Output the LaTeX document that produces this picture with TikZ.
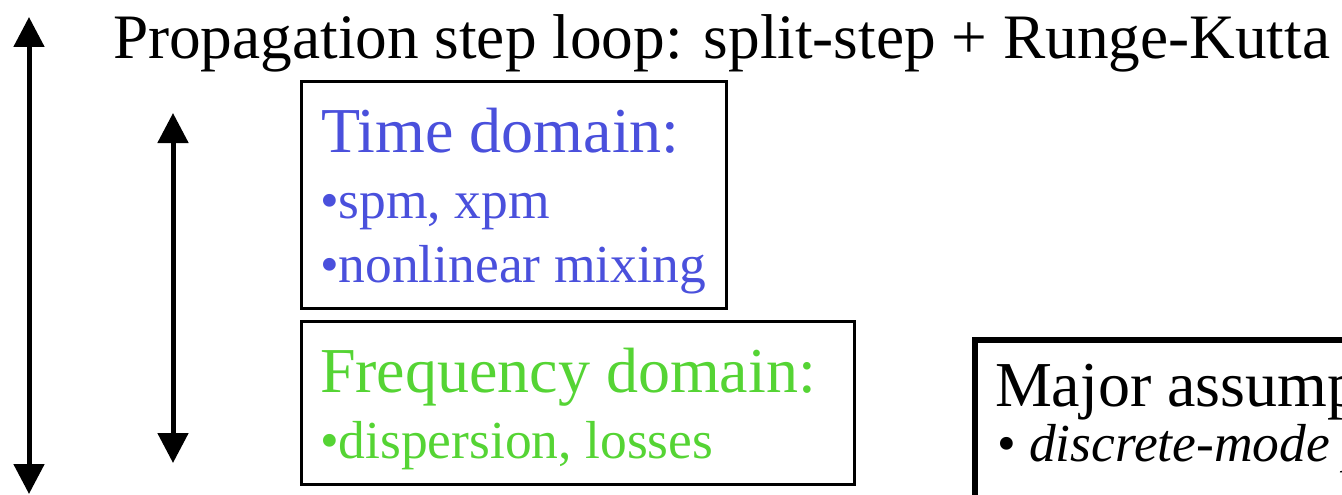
\documentclass[tikz,border=0pt]{standalone}
\usepackage{fontspec}
\setmainfont{Liberation Serif}
\usetikzlibrary{arrows.meta}
\definecolor{tblue}{RGB}{74,80,220}
\definecolor{fgreen}{RGB}{85,212,52}
\tikzset{
  loop/.style={line width=5pt,{Triangle[width=30pt,length=30pt]}-{Triangle[width=30pt,length=30pt]}},
  dombox/.style={draw=black,line width=2.6pt,fill=none},
  txt/.style={anchor=base west,inner sep=0pt,outer sep=0pt},
  big/.style={font=\fontsize{64}{76}\selectfont},
  small/.style={font=\fontsize{53.5}{64}\selectfont},
}
\begin{document}
\begin{tikzpicture}[x=1pt,y=-1pt]
\useasboundingbox (0,0) rectangle (1342,495);
\clip (0,0) rectangle (1342,495);
% arrows
\coordinate (a1t) at (29,17);
\coordinate (a1b) at (29,494);
\coordinate (a2t) at (173,113);
\coordinate (a2b) at (173,463);
\draw[loop] (a1t) -- (a1b);
\draw[loop] (a2t) -- (a2b);
% title
\node[txt,font=\fontsize{63.3}{76}\selectfont] (title) at (113,59) {Propagation step loop: split-step + Runge-Kutta};
% time domain box
\node[dombox,minimum width=425pt,minimum height=227pt,anchor=north west] (tbox) at (300,80) {};
\node[txt,big,text=tblue] (tt) at (321,152) {Time domain:};
\node[txt,small,text=tblue] (t1) at (320,218) {•spm, xpm};
\node[txt,small,text=tblue] (t2) at (320,282) {•nonlinear mixing};
% frequency domain box
\node[dombox,minimum width=553pt,minimum height=163pt,anchor=north west] (fbox) at (300,320) {};
\node[txt,big,text=fgreen] (ft) at (320,392) {Frequency domain:};
\node[txt,small,text=fgreen] (f1) at (320,458) {•dispersion, losses};
% assumptions box
\node[draw=black,line width=5.5pt,minimum width=500pt,minimum height=300pt,anchor=north west] (abox) at (972,337) {};
\node[txt,big] (at) at (995,406) {Major assump};
\node[txt,small] (a1) at (997,461) {• \textit{discrete-mode p}};
\end{tikzpicture}
\end{document}
